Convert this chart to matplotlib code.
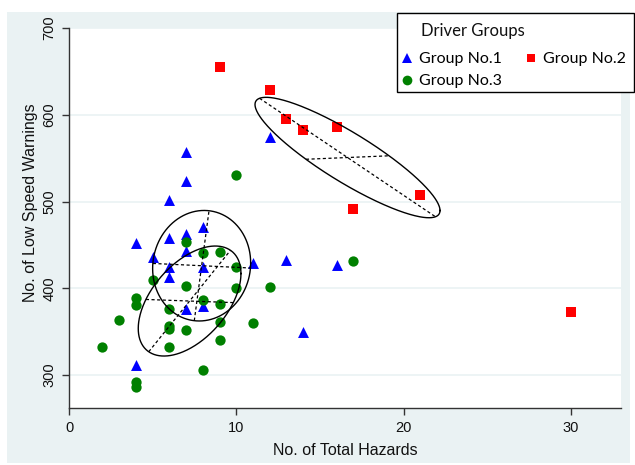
import numpy as np
import matplotlib
matplotlib.use("Agg")
import matplotlib.pyplot as plt
from matplotlib.patches import Rectangle
from matplotlib.lines import Line2D

# ---------------- data ----------------
g1_x = [7, 7, 6, 12, 4, 6, 7, 8, 5, 7, 6, 8, 11, 13, 6, 7, 8, 4, 14, 16]
g1_y = [557, 524, 502, 574, 452, 458, 462, 471, 436, 443, 424, 424, 429, 433, 413, 376, 380, 312, 350, 427]

g2_x = [9, 12, 13, 14, 16, 21, 17, 30]
g2_y = [655, 628, 595, 582, 586, 507, 491, 373]

g3_x = [10, 7, 8, 9, 10, 5, 7, 10, 12, 4, 4, 8, 9, 6, 3, 9, 11, 6, 6, 7, 9, 2, 6, 8, 4, 4, 17]
g3_y = [531, 453, 441, 442, 424, 409, 403, 400, 401, 389, 381, 387, 382, 376, 363, 361, 360, 357, 353, 352, 340, 332, 332, 306, 292, 286, 431]

labels = ["Group No.1", "Group No.2", "Group No.3"]
legend_title = "Driver Groups"
x_label = "No. of Total Hazards"
y_label = "No. of Low Speed Warnings"
x_ticks = [0, 10, 20, 30]
y_ticks = [300, 400, 500, 600, 700]

# ellipse parameters: centre, half-extents, tilt (r)
ell_center = [(7.93, 426.0), (16.65, 550.7), (7.21, 385.3)]
ell_half = [(2.93, 63.7), (5.53, 69.4), (3.07, 63.4)]
ell_r = [0.05, -0.88, 0.5]
# directions of the two dashed chords through each centre
ell_dirs = [[(0.44, 63.4), (2.89, -2.6)],
            [(5.03, -65.3), (2.86, 2.3)],
            [(2.37, 56.7), (2.74, -1.9)]]

# ---------------- figure ----------------
W, H = 635, 465
fig = plt.figure(figsize=(W / 100, H / 100), dpi=100)
fig.patch.set_facecolor("white")
bg = "#EAF2F3"
fig.add_artist(Rectangle((7 / W, 1 - 463 / H), (630 - 7) / W, (463 - 12) / H,
                         transform=fig.transFigure, facecolor=bg, edgecolor="none", zorder=-10))

L, R, T, B = 69, 621, 28, 408
ax = fig.add_axes([L / W, 1 - B / H, (R - L) / W, (B - T) / H])
ax.set_facecolor("white")
ax.set_xlim(0, 33)
ax.set_ylim(262, 700)

for s in ["top", "right"]:
    ax.spines[s].set_visible(False)
for s in ["left", "bottom"]:
    ax.spines[s].set_color("#333333")
    ax.spines[s].set_linewidth(1.0)

ax.set_xticks(x_ticks)
ax.set_yticks(y_ticks)
ax.yaxis.grid(True, color=bg, linewidth=1.2, zorder=0)
ax.set_axisbelow(True)
ax.tick_params(axis="both", direction="out", length=5, width=1, color="#333333",
               labelsize=10.5, labelcolor="#111111")
ax.tick_params(axis="x", pad=4)
ax.tick_params(axis="y", pad=4)
fontname = "Liberation Sans"
for lab in ax.get_xticklabels():
    lab.set_fontfamily(fontname)
for lab in ax.get_yticklabels():
    lab.set_fontfamily(fontname)
    lab.set_rotation(90)
    lab.set_va("center")

ax.set_xlabel(x_label, fontsize=11.5, family=fontname, labelpad=6, color="#111111")
ax.set_ylabel(y_label, fontsize=11.5, family=fontname, color="#111111")
ax.yaxis.set_label_coords(-0.056, 0.54)

ax.scatter(g1_x, g1_y, marker="^", s=62, color="#0000FF", linewidths=0, zorder=3)
ax.scatter(g2_x, g2_y, marker="s", s=48, color="#FF0000", linewidths=0, zorder=3)
ax.scatter(g3_x, g3_y, marker="o", s=55, color="#008000", linewidths=0, zorder=3)

t = np.linspace(0, 2 * np.pi, 400)
for (cx, cy), (sx, sy), r, dirs in zip(ell_center, ell_half, ell_r, ell_dirs):
    ex = cx + sx * np.cos(t)
    ey = cy + sy * (r * np.cos(t) + np.sqrt(1 - r * r) * np.sin(t))
    ax.plot(ex, ey, color="black", lw=1.0, zorder=4)
    for dx, dy in dirs:
        a, b = dx / sx, dy / sy
        lam = np.sqrt((1 - r * r) / (a * a - 2 * r * a * b + b * b))
        ax.plot([cx - lam * dx, cx + lam * dx], [cy - lam * dy, cy + lam * dy],
                color="black", lw=0.9, ls=(0, (2.5, 2)), zorder=4)

# legend box
fig.add_artist(Rectangle((397 / W, 1 - 92 / H), (634 - 397) / W, (92 - 13) / H,
                         transform=fig.transFigure, facecolor="white", edgecolor="black",
                         linewidth=1.0, zorder=5))
fig.text(421 / W, 1 - 31 / H, legend_title, family="Lato", fontsize=12,
         va="center", ha="left", color="#111111", zorder=6)
h1 = Line2D([], [], marker="^", color="#0000FF", ls="none", markersize=7, markeredgewidth=0)
h2 = Line2D([], [], marker="s", color="#FF0000", ls="none", markersize=6, markeredgewidth=0)
h3 = Line2D([], [], marker="o", color="#008000", ls="none", markersize=7, markeredgewidth=0)
leg = fig.legend([h1, h3, h2], [labels[0], labels[2], labels[1]], ncol=2,
                 loc="upper left", bbox_to_anchor=(401 / W, 1 - 52 / H),
                 frameon=False,
                 prop={"family": "Lato", "size": 11.5},
                 handlelength=0.8, handletextpad=0.35, columnspacing=1.4,
                 labelspacing=0.5, borderaxespad=0, borderpad=0)
leg.set_zorder(6)

fig.savefig("out.png", dpi=100, facecolor="white")
